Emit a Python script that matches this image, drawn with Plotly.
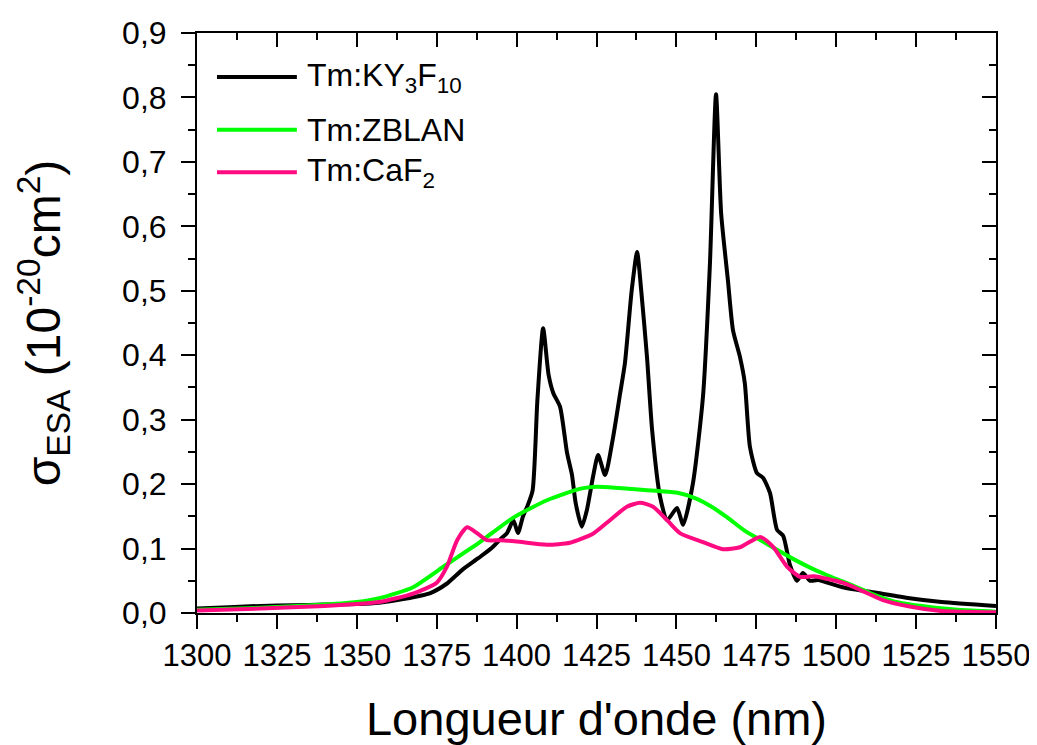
import plotly.graph_objects as go

# ---- data ----
ky_x = [1300, 1310, 1320, 1330, 1340, 1350, 1357, 1365, 1373, 1378, 1383, 1388, 1392, 1395, 1397,
        1399, 1400.4, 1402, 1403.3, 1405, 1406.5, 1408.3, 1410, 1411.5, 1413.6, 1415.8, 1417.3, 1418.5,
        1420.4, 1422, 1423.9, 1425.5, 1427.7, 1430.2, 1432.4, 1433.9, 1436, 1437.7, 1439, 1440.8,
        1442.4, 1444.9, 1447.1, 1450.2, 1452.1, 1455.2, 1458.3, 1460.5, 1462.4, 1464, 1466.1, 1467.7,
        1469.9, 1471.4, 1473.0, 1475.2, 1477.1, 1479.3, 1481.5, 1483.4, 1485.5, 1487.7, 1489.6,
        1491.8, 1494.3, 1502, 1513, 1523, 1533, 1550]
ky_y = [0.007, 0.009, 0.011, 0.012, 0.013, 0.014, 0.016, 0.022, 0.031, 0.045, 0.067, 0.085, 0.100, 0.115, 0.124,
        0.144, 0.124, 0.150, 0.165, 0.190, 0.330, 0.442, 0.370, 0.341, 0.320, 0.248, 0.215, 0.170,
        0.134, 0.160, 0.211, 0.245, 0.214, 0.273, 0.341, 0.388, 0.500, 0.560, 0.500, 0.397,
        0.284, 0.180, 0.144, 0.163, 0.137, 0.202, 0.335, 0.543, 0.805, 0.620, 0.517, 0.439,
        0.397, 0.357, 0.258, 0.217, 0.210, 0.186, 0.129, 0.120, 0.075, 0.050, 0.062,
        0.050, 0.051, 0.040, 0.031, 0.023, 0.017, 0.011]

zb_x = [1300, 1320, 1340, 1350, 1357, 1367.6, 1378, 1388.5, 1399, 1409.5, 1420, 1425, 1432, 1440,
        1450, 1456, 1461, 1466, 1471, 1476, 1481.5, 1486.5, 1492, 1497, 1502, 1507.4, 1512, 1518,
        1528, 1538, 1550]
zb_y = [0.005, 0.008, 0.013, 0.017, 0.023, 0.040, 0.075, 0.110, 0.148, 0.175, 0.193, 0.196, 0.194, 0.191,
        0.187, 0.178, 0.165, 0.148, 0.129, 0.114, 0.098, 0.084, 0.070, 0.059, 0.049, 0.038, 0.028, 0.018,
        0.010, 0.005, 0.002]

ca_x = [1300, 1320, 1340, 1350, 1357, 1367.6, 1375, 1378.2, 1381.4, 1384.5, 1387.6, 1390.7, 1395, 1400,
        1409.5, 1416.7, 1423.9, 1429.2, 1434.5, 1438.6, 1442.7, 1447.1, 1451.1, 1458.3, 1464.6, 1469.9,
        1476.2, 1480.2, 1484.6, 1488.7, 1493, 1502, 1507.4, 1514.6, 1523, 1533, 1550]
ca_y = [0.004, 0.007, 0.011, 0.014, 0.017, 0.030, 0.047, 0.072, 0.113, 0.133, 0.124, 0.113, 0.113, 0.111,
        0.106, 0.109, 0.123, 0.144, 0.165, 0.171, 0.165, 0.144, 0.124, 0.110, 0.099, 0.102,
        0.118, 0.103, 0.072, 0.056, 0.057, 0.047, 0.036, 0.020, 0.010, 0.003, 0.001]

series_names = ["Tm:KY<sub>3</sub>F<sub>10</sub>", "Tm:ZBLAN", "Tm:CaF<sub>2</sub>"]
series_colors = ["#000000", "#00FF00", "#FF0A80"]

y_tick_vals = [0, 0.1, 0.2, 0.3, 0.4, 0.5, 0.6, 0.7, 0.8, 0.9]
y_tick_text = ["0,0", "0,1", "0,2", "0,3", "0,4", "0,5", "0,6", "0,7", "0,8", "0,9"]
x_tick_vals = [1300, 1325, 1350, 1375, 1400, 1425, 1450, 1475, 1500, 1525, 1550]

FONT = "Arial, Liberation Sans, sans-serif"

fig = go.Figure()
for xs, ys, name, col in [(ky_x, ky_y, series_names[0], series_colors[0]),
                          (zb_x, zb_y, series_names[1], series_colors[1]),
                          (ca_x, ca_y, series_names[2], series_colors[2])]:
    fig.add_trace(go.Scatter(x=xs, y=ys, mode="lines", name=name,
                             line=dict(color=col, width=4, shape="spline", smoothing=0.6),
                             showlegend=False))

# invisible trace to activate the mirrored (top/right) axes with inward ticks
fig.add_trace(go.Scatter(x=zb_x, y=zb_y, xaxis="x2", yaxis="y2", mode="lines",
                         line=dict(width=0), opacity=0, showlegend=False, hoverinfo="skip"))

# manual legend (long line samples like the original)
legend_rows = [0.924, 0.833, 0.760]
for name, col, yy in zip(series_names, series_colors, legend_rows):
    fig.add_shape(type="line", xref="paper", yref="paper", x0=0.025, x1=0.125, y0=yy, y1=yy,
                  line=dict(color=col, width=4))
    fig.add_annotation(xref="paper", yref="paper", x=0.135, y=yy, text=name, showarrow=False,
                       xanchor="left", yanchor="middle", font=dict(family=FONT, size=32, color="black"))

axis_common = dict(showgrid=False, zeroline=False, showline=True, linecolor="black", linewidth=2,
                   tickcolor="black", tickwidth=2, ticklen=14, automargin=False)

# the page body adds an 8px offset, so the figure is 8px smaller than the window on each axis
fig.update_layout(
    width=1029, height=737,
    margin=dict(l=189, r=41, t=25, b=132),
    paper_bgcolor="white", plot_bgcolor="white",
    font=dict(family=FONT, color="black"),
    xaxis=dict(range=[1300, 1550], tickvals=x_tick_vals, ticks="outside",
               tickfont=dict(family=FONT, size=31), ticklabelstandoff=0,
               minor=dict(dtick=12.5, tick0=1300, ticks="outside", ticklen=7, tickwidth=2, tickcolor="black"),
               title=dict(text="Longueur d'onde (nm)", font=dict(family=FONT, size=47), standoff=35),
               **axis_common),
    yaxis=dict(range=[0, 0.9], tickvals=y_tick_vals, ticktext=y_tick_text, ticks="outside",
               tickfont=dict(family=FONT, size=32), ticklabelstandoff=8,
               minor=dict(dtick=0.05, tick0=0, ticks="outside", ticklen=7, tickwidth=2, tickcolor="black"),
               title=dict(text="σ<sub>ESA</sub> (10<sup>-20</sup>cm<sup>2</sup>)",
                          font=dict(family=FONT, size=48), standoff=46),
               **axis_common),
    xaxis2=dict(range=[1300, 1550], overlaying="x", side="top", tickvals=x_tick_vals, ticks="inside",
                showticklabels=False,
                minor=dict(dtick=12.5, tick0=1300, ticks="inside", ticklen=7, tickwidth=2, tickcolor="black"),
                **axis_common),
    yaxis2=dict(range=[0, 0.9], overlaying="y", side="right", tickvals=y_tick_vals, ticks="inside",
                showticklabels=False,
                minor=dict(dtick=0.05, tick0=0, ticks="inside", ticklen=7, tickwidth=2, tickcolor="black"),
                **axis_common),
)

fig.write_html("out.html")
